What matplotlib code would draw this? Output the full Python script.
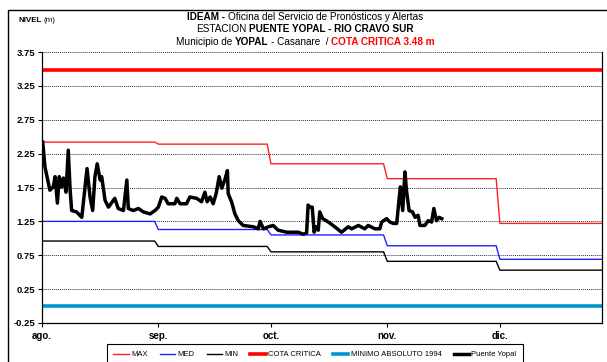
import numpy as np
import matplotlib
matplotlib.use("Agg")
import matplotlib.pyplot as plt
from matplotlib.patches import Rectangle

plt.rcParams['font.family'] = ['Liberation Sans Narrow', 'Liberation Sans', 'DejaVu Sans']

# Inicio de cada mes (dias desde 1 de agosto)
meses = ["ago.", "sep.", "oct.", "nov.", "dic."]
inicio_mes = [0, 31, 61, 92, 122, 153]

# Niveles mensuales historicos (m)
nivel_max = [2.42, 2.39, 2.10, 1.88, 1.22]
nivel_med = [1.25, 1.13, 1.05, 0.89, 0.69]
nivel_min = [0.96, 0.88, 0.80, 0.66, 0.53]
cota_critica = 3.48
minimo_1994 = 0.0

# Registro de la estacion Puente Yopal (dias desde 1 de agosto, nivel en m)
dias = [0.2, 0.8, 2.1, 3.0, 3.5, 4.1, 4.6, 5.2, 5.7, 6.4, 7.0, 7.5, 7.9, 9.2,
        10.6, 12.0, 12.8, 13.5, 14.1, 14.7, 15.5, 15.9, 16.8, 17.7, 19.4, 20.3,
        21.7, 22.6, 23.0, 24.3, 25.7, 27.0, 28.8, 30.1, 31.0, 31.9, 32.8, 33.6,
        35.4, 35.9, 36.8, 38.5, 39.4, 41.2, 42.5, 43.4, 44.0, 44.8, 45.6, 46.4,
        47.2, 47.9, 48.8, 49.4, 49.6, 50.5, 51.4, 52.3, 53.6, 56.3, 57.6, 58.1,
        59.0, 60.3, 61.6, 62.9, 65.2, 68.3, 69.6, 70.5, 70.9, 71.4, 72.0, 72.5,
        73.0, 73.6, 74.0, 74.8, 76.3, 78.0, 79.8, 81.6, 82.5, 84.3, 86.0, 86.9,
        88.7, 90.0, 90.5, 91.8, 92.7, 93.6, 94.5, 95.2, 95.5, 96.1, 96.7, 97.1,
        97.8, 98.7, 99.4, 100.2, 100.7, 102.0, 102.9, 103.8, 104.4, 105.1,
        105.8, 106.5]
nivel = [2.42, 2.05, 1.71, 1.76, 1.91, 1.52, 1.91, 1.76, 1.89, 1.68, 2.30, 1.71,
         1.41, 1.39, 1.31, 2.03, 1.61, 1.41, 1.91, 2.10, 1.86, 1.91, 1.56, 1.46,
         1.59, 1.44, 1.41, 1.86, 1.44, 1.41, 1.44, 1.39, 1.36, 1.41, 1.46, 1.61,
         1.59, 1.51, 1.51, 1.59, 1.51, 1.51, 1.61, 1.59, 1.54, 1.68, 1.54, 1.61,
         1.51, 1.66, 1.91, 1.74, 1.88, 2.00, 1.66, 1.54, 1.36, 1.26, 1.19, 1.17,
         1.14, 1.25, 1.14, 1.17, 1.19, 1.12, 1.09, 1.09, 1.06, 1.08, 1.49, 1.46,
         1.46, 1.09, 1.17, 1.12, 1.39, 1.29, 1.24, 1.17, 1.09, 1.17, 1.14, 1.19,
         1.14, 1.19, 1.14, 1.14, 1.24, 1.29, 1.24, 1.22, 1.22, 1.61, 1.76, 1.41,
         1.98, 1.71, 1.41, 1.39, 1.31, 1.34, 1.19, 1.19, 1.26, 1.24, 1.44, 1.26,
         1.31, 1.29]


def escalon(valores):
    # cada valor mensual se mantiene del primer al ultimo dia del mes
    xs, ys = [], []
    for i, v in enumerate(valores):
        xs += [inicio_mes[i], inicio_mes[i + 1] - 1]
        ys += [v, v]
    return xs, ys


fig = plt.figure(figsize=(6.07, 3.62), dpi=100)
ax = fig.add_axes([42 / 607, 1 - 323 / 362, 560 / 607, 271 / 362])

x, y = escalon(nivel_max)
ax.plot(x, y, color="#ff2020", lw=1.0, label="MAX")
x, y = escalon(nivel_med)
ax.plot(x, y, color="#2020ff", lw=1.0, label="MED")
x, y = escalon(nivel_min)
ax.plot(x, y, color="#000000", lw=1.0, label="MIN")
ax.axhline(cota_critica, color="#ff0000", lw=2.6, label="COTA CRITICA")
ax.axhline(minimo_1994, color="#0099cc", lw=2.6, label="MINIMO ABSOLUTO 1994")
ax.plot(dias, nivel, color="black", lw=2.5, solid_joinstyle="round",
        label="Puente Yopal")

ax.set_xlim(0, 149.2)
ax.set_ylim(-0.25, 3.75)
ax.set_yticks(np.arange(-0.25, 3.76, 0.5))
ax.set_yticklabels([f"{v:.2f}" for v in np.arange(-0.25, 3.76, 0.5)],
                   fontsize=6.8, fontweight="bold")
ax.set_xticks(inicio_mes[:5])
ax.set_xticklabels(meses, fontsize=7.0, fontweight="bold")
ax.tick_params(axis="both", length=3, width=0.8, pad=2)
ax.tick_params(axis="x", pad=3)
ax.yaxis.grid(True, linestyle=(0, (1, 1)), color="#333333", lw=0.7)
ax.set_axisbelow(True)
ax.spines["top"].set_visible(False)
for s in ["left", "bottom", "right"]:
    ax.spines[s].set_linewidth(0.9)

# marco del area del grafico
fig.add_artist(Rectangle((8 / 607, -0.2), 1.0, 1.2 - 10 / 362,
                         transform=fig.transFigure, fill=False,
                         edgecolor="black", lw=1.0, clip_on=False))

fig.canvas.draw()
renderer = fig.canvas.get_renderer()


def linea_mixta(cx, cy, partes, size):
    # partes: (texto, peso, color, espacio_previo)
    textos = []
    for s, w, c, _ in partes:
        textos.append(fig.text(0, cy / 362, s, fontsize=size, fontweight=w,
                               color=c, ha="left", va="center"))
    fig.canvas.draw()
    esp = 0.25 * size * 100 / 72
    anchos = [t.get_window_extent(renderer).width for t in textos]
    total = sum(anchos) + esp * sum(1 for p in partes[1:] if p[3])
    x0 = cx - total / 2
    for t, a, p in zip(textos, anchos, partes):
        if p[3] and t is not textos[0]:
            x0 += esp
        t.set_x(x0 / 607)
        x0 += a


linea_mixta(305, 362 - 17, [("IDEAM -", "bold", "black", False),
                            ("Oficina del Servicio de Pronósticos y Alertas",
                             "normal", "black", True)], 7.2)
linea_mixta(305, 362 - 29, [("ESTACION", "normal", "black", False),
                            ("PUENTE YOPAL - RIO CRAVO SUR", "bold", "black",
                             True)], 7.2)
linea_mixta(305, 362 - 42, [("Municipio de", "normal", "black", False),
                            ("YOPAL", "bold", "black", True),
                            ("- Casanare  /", "normal", "black", True),
                            ("COTA CRITICA 3.48 m", "bold", "#ff0000", True)],
            7.2)
linea_mixta(37, 362 - 20, [("NIVEL", "bold", "black", False),
                           ("(m)", "normal", "black", True)], 5.8)

leg = fig.legend(loc="upper center", bbox_to_anchor=(315 / 607, 1 - 344 / 362),
                 ncol=6, fontsize=5.5, frameon=True, fancybox=False,
                 edgecolor="black", framealpha=1, handlelength=2.0,
                 handletextpad=0.3, columnspacing=1.6, borderpad=0.9,
                 borderaxespad=0)
leg.get_frame().set_linewidth(0.8)

fig.savefig("out.png", dpi=100)
